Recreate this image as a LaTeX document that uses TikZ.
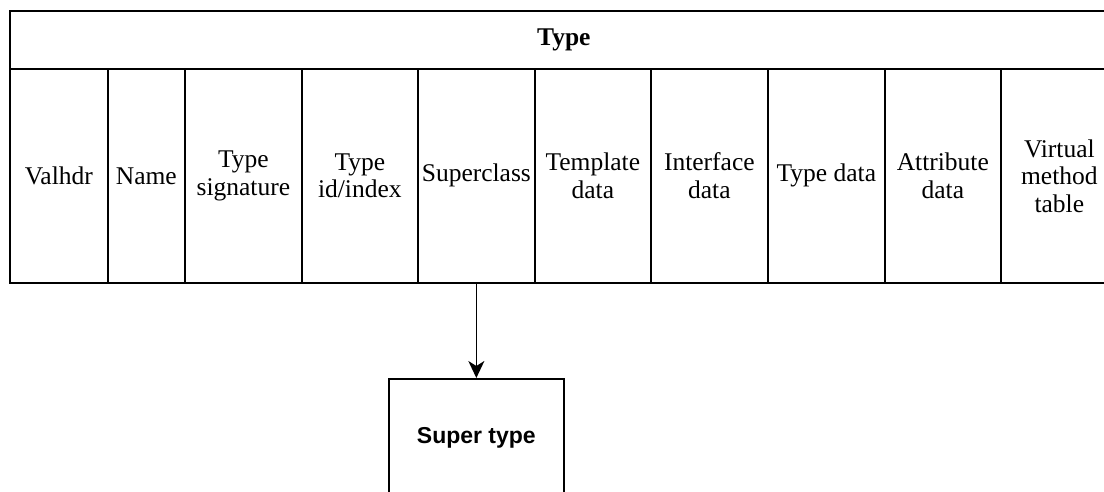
\documentclass[tikz,border=0pt]{standalone}
\usepackage{fontspec}
\setmainfont{Liberation Serif}
\newfontfamily\labelsans{Liberation Sans}
\usetikzlibrary{arrows.meta}

\tikzset{
  frame/.style={draw=black, line width=1.7pt, inner sep=0pt},
  cell/.style={frame, anchor=north west, minimum height=214pt, align=center,
    font=\fontsize{25.5}{27.5}\selectfont},
  headbox/.style={frame, anchor=north west, minimum width=1108pt, minimum height=58pt,
    font=\fontsize{25.5}{27.5}\selectfont\bfseries},
  superbox/.style={frame, anchor=north west, minimum width=175pt, minimum height=118pt,
    font=\labelsans\fontsize{23}{26}\selectfont\bfseries},
  link/.style={draw=black, line width=1.7pt,
    -{Stealth[length=17pt, width=16pt, inset=5pt]}}
}

\begin{document}
\begin{tikzpicture}[x=1pt, y=-1pt]
  \useasboundingbox (0,0) rectangle (1104,491);
  \fill[white] (0,0) rectangle (1104,491);
  \clip (0,0) rectangle (1104,491);

  % header row spanning all fields
  \node[headbox] (type) at (9,10) {Type};

  % field cells of the type record
  \node[cell, minimum width=98pt]  (valhdr)   at (9,68)    {Valhdr};
  \node[cell, minimum width=77pt]  (name)     at (107,68)  {Name};
  \node[cell, minimum width=117pt] (sig)      at (184,68)  {Type\\signature};
  \node[cell, minimum width=116pt] (typeid)   at (301,68)  {Type\\id/index};
  \node[cell, minimum width=117pt] (superc)   at (417,68)  {Superclass};
  \node[cell, minimum width=116pt] (tmpl)     at (534,68)  {Template\\data};
  \node[cell, minimum width=117pt] (iface)    at (650,68)  {Interface\\data};
  \node[cell, minimum width=117pt] (tdata)    at (767,68)  {Type data};
  \node[cell, minimum width=116pt] (attr)     at (884,68)  {Attribute\\data};
  \node[cell, minimum width=117pt] (vmt)      at (1000,68) {Virtual\\method\\table};

  % referenced super type
  \node[superbox] (super) at (388,378) {Super type};

  \draw[link] (superc.south) -- (super.north);
\end{tikzpicture}
\end{document}
